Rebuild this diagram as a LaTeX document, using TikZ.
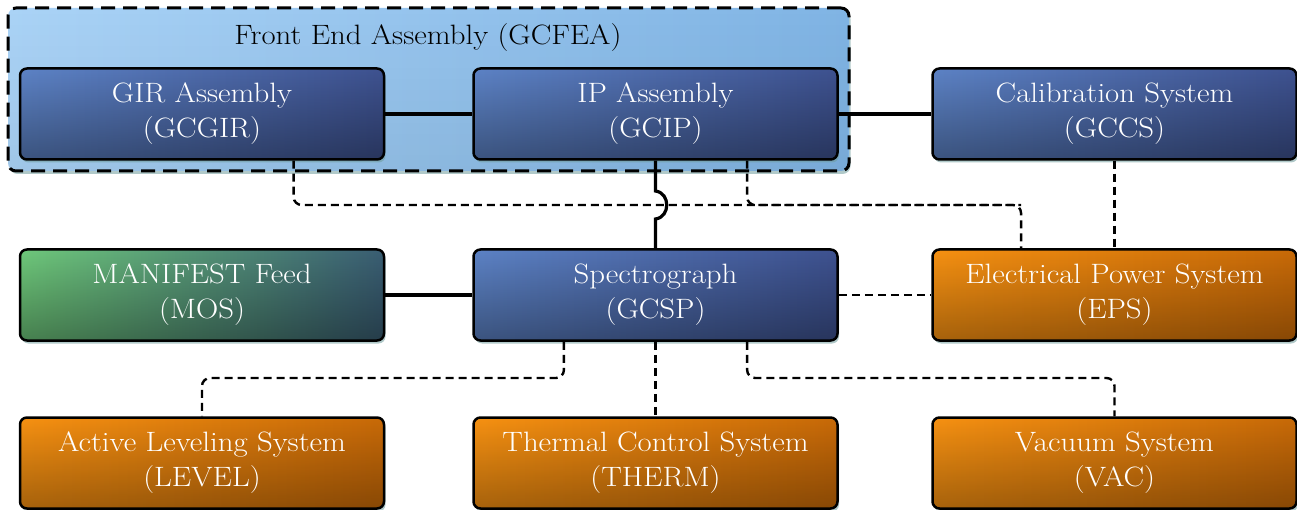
\documentclass[tikz,border=0pt]{standalone}
\usepackage{fontspec}
\setmainfont{Latin Modern Roman}[FakeStretch=1.1]
\usetikzlibrary{calc,shadows,fadings}
\definecolor{bluetl}{HTML}{5D83C6}
\definecolor{bluetr}{HTML}{3E5290}
\definecolor{greentl}{HTML}{6FC97B}
\definecolor{greentr}{HTML}{3A5E74}
\definecolor{orangetl}{HTML}{F69112}
\definecolor{orangetr}{HTML}{C86A08}
\definecolor{grouptl}{HTML}{AAD3F6}
\definecolor{grouptr}{HTML}{80B4E4}
\definecolor{shadowc}{HTML}{6F9C9C}
% darkening towards the bottom edge of each box
\tikzfading[name=fadedown, top color=transparent!100, bottom color=transparent!0]
\tikzset{
  darken/.style={path picture={
      \fill[black, opacity=#1, path fading=fadedown]
        (path picture bounding box.south west) rectangle (path picture bounding box.north east);}},
  unit/.style={draw=black, line width=2.5pt, rounded corners=7pt,
    minimum width=364pt, minimum height=91pt, align=center,
    text=white, font=\fontsize{28}{35}\selectfont,
    drop shadow={shadow xshift=1.5pt, shadow yshift=-3pt, fill=shadowc, opacity=0.55}},
  blueunit/.style={unit, left color=bluetl, right color=bluetr, darken=0.36},
  greenunit/.style={unit, left color=greentl, right color=greentr, darken=0.36},
  orangeunit/.style={unit, left color=orangetl, right color=orangetr, darken=0.32},
  groupbox/.style={draw=black, line width=3pt, dash pattern=on 14pt off 8pt,
    rounded corners=8pt, left color=grouptl, right color=grouptr, darken=0.06,
    drop shadow={shadow xshift=1.5pt, shadow yshift=-3pt, fill=shadowc, opacity=0.55}},
  link/.style={draw=black, line width=3.2pt},
  dlink/.style={draw=black, line width=2.4pt, dash pattern=on 8pt off 5pt, rounded corners=8pt},
}
\begin{document}
\begin{tikzpicture}[x=1pt, y=-1pt]
\useasboundingbox (0,0) rectangle (1297,510);

% front end group
\node[groupbox, minimum width=841pt, minimum height=163pt] (fea) at (428.5,89.5) {};
\node[font=\fontsize{28}{35}\selectfont, text=black] (fealabel) at (428,38) {Front End Assembly (GCFEA)};

% units
\node[blueunit] (gir) at (202,114) {GIR Assembly\\(GCGIR)};
\node[blueunit] (ip) at (655.5,114) {IP Assembly\\(GCIP)};
\node[blueunit] (gccs) at (1114.5,114) {Calibration System\\(GCCS)};
\node[greenunit] (mos) at (202,295) {MANIFEST Feed\\(MOS)};
\node[blueunit] (gcsp) at (655.5,295) {Spectrograph\\(GCSP)};
\node[orangeunit] (eps) at (1114.5,295) {Electrical Power System\\(EPS)};
\node[orangeunit] (level) at (202,463) {Active Leveling System\\(LEVEL)};
\node[orangeunit] (therm) at (655.5,463) {Thermal Control System\\(THERM)};
\node[orangeunit] (vac) at (1114.5,463) {Vacuum System\\(VAC)};

% anchor points along box edges
\coordinate (gir-b) at ($(gir.south west)!0.75!(gir.south east)$);
\coordinate (ip-b) at ($(ip.south west)!0.75!(ip.south east)$);
\coordinate (eps-t) at ($(eps.north west)!0.245!(eps.north east)$);
\coordinate (gcsp-bl) at ($(gcsp.south west)!0.25!(gcsp.south east)$);
\coordinate (gcsp-br) at ($(gcsp.south west)!0.75!(gcsp.south east)$);
\coordinate (busA) at (0,205);
\coordinate (busB) at (0,378);
\coordinate (hopA) at (655.5,191);
\coordinate (hopB) at (655.5,219);

% power and service links (dashed)
\draw[dlink] (gir-b) |- (eps-t |- busA) -- (eps-t);
\draw[dlink] (ip-b) |- (eps-t |- busA);
\draw[dlink] (gccs.south) -- (gccs.south |- eps.north);
\draw[dlink] (gcsp.east) -- (eps.west);
\draw[dlink] (gcsp-bl) |- (level.north |- busB) -- (level.north);
\draw[dlink] (gcsp.south) -- (therm.north);
\draw[dlink] (gcsp-br) |- (vac.north |- busB) -- (vac.north);

% mechanical / optical links (solid)
\draw[link] (gir.east) -- (ip.west);
\draw[link] (ip.east) -- (gccs.west);
\draw[link] (mos.east) -- (gcsp.west);
\draw[link] (ip.south) -- (hopA) .. controls +(15,2) and +(15,-2) .. (hopB) -- (gcsp.north);
\end{tikzpicture}
\end{document}
